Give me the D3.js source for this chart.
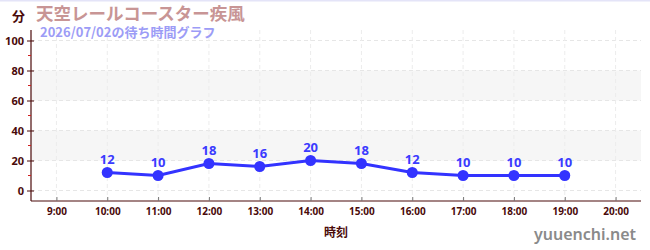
<!DOCTYPE html>
<html lang="ja">
<head>
<meta charset="UTF-8">
<script src="https://cdn.jsdelivr.net/npm/d3@7"></script>
<style>
  html, body { margin: 0; padding: 0; background: #fff; }
  body { width: 650px; height: 250px; overflow: hidden; font-family: "Noto Sans CJK JP", "Noto Sans", sans-serif; }
  svg { display: block; }
</style>
</head>
<body>
<div id="chart"></div>
<script>
// data
let hours = [10, 11, 12, 13, 14, 15, 16, 17, 18, 19];
let waits = [12, 10, 18, 16, 20, 18, 12, 10, 10, 10];
let xTicks = [9, 10, 11, 12, 13, 14, 15, 16, 17, 18, 19, 20];
let yTicks = [0, 20, 40, 60, 80, 100];
let yMinor = [10, 30, 50, 70, 90];
let bands = [[20, 40], [60, 80]];

let title = '天空レールコースター疾風';
let subtitle = '2026/07/02の待ち時間グラフ';

let width = 650, height = 250;
let plotL = 31, plotR = 641, plotT = 30, plotB = 201;
let axisColor = '#4a0a0a';

let svg = d3.select('#chart').append('svg').attr('width', width).attr('height', height);

let x = d3.scaleLinear().domain([8.5, 20.5]).range([plotL, plotR]);
let y = d3.scaleLinear().domain([-7, 107]).range([plotB, plotT]);

// top border
svg.append('rect').attr('x', 0).attr('y', 0).attr('width', width).attr('height', 1.5).attr('fill', '#e4e4f8');

// bands
svg.selectAll('rect.band')
    .data(bands)
    .join('rect')
    .attr('class', 'band')
    .attr('x', plotL).attr('width', plotR - plotL)
    .attr('y', d => y(d[1])).attr('height', d => y(d[0]) - y(d[1]))
    .attr('fill', '#f6f6f6');

// grid
svg.selectAll('line.hgrid')
    .data(yTicks)
    .join('line')
    .attr('class', 'hgrid')
    .attr('x1', plotL).attr('x2', plotR)
    .attr('y1', d => y(d)).attr('y2', d => y(d))
    .attr('stroke', '#e6e6e6').attr('stroke-dasharray', '4,3');

svg.selectAll('line.vgrid')
    .data(xTicks)
    .join('line')
    .attr('class', 'vgrid')
    .attr('x1', d => x(d)).attr('x2', d => x(d))
    .attr('y1', plotT).attr('y2', plotB)
    .attr('stroke', '#ececec').attr('stroke-dasharray', '4,3');

// axes
let yAxis = svg.append('g')
    .attr('transform', `translate(${plotL},0)`)
    .call(d3.axisLeft(y).tickValues(yTicks).tickSize(3).tickPadding(4));
yAxis.select('.domain').attr('d', `M0,${plotT}V${plotB}`).attr('stroke', axisColor).attr('stroke-width', 1.2);
yAxis.selectAll('.tick line').attr('x2', 3).attr('x1', -4).attr('stroke', axisColor);
yAxis.selectAll('.tick text')
    .attr('fill', axisColor).attr('font-size', 11).attr('font-weight', 'bold')
    .attr('font-family', '"Noto Sans", sans-serif');

svg.selectAll('line.yminor')
    .data(yMinor)
    .join('line')
    .attr('class', 'yminor')
    .attr('x1', plotL - 3).attr('x2', plotL)
    .attr('y1', d => y(d)).attr('y2', d => y(d))
    .attr('stroke', '#d02020');

let xAxis = svg.append('g')
    .attr('transform', `translate(0,${plotB})`)
    .call(d3.axisBottom(x).tickValues(xTicks).tickFormat(d => d + ':00').tickSize(0).tickPadding(7));
xAxis.select('.domain').attr('d', `M${plotL},0H${plotR}`).attr('stroke', axisColor).attr('stroke-width', 1.2);
xAxis.selectAll('.tick line').attr('y1', -4).attr('y2', 0).attr('stroke', '#777');
xAxis.selectAll('.tick text')
    .attr('fill', axisColor).attr('font-size', 10).attr('font-weight', 'bold')
    .attr('font-family', '"Noto Sans", sans-serif');

// line + points
let pts = hours.map((h, i) => [h, waits[i]]);
svg.append('path')
    .datum(pts)
    .attr('d', d3.line().x(d => x(d[0])).y(d => y(d[1])))
    .attr('fill', 'none')
    .attr('stroke', '#3333ff')
    .attr('stroke-width', 3);

svg.selectAll('circle.pt')
    .data(pts)
    .join('circle')
    .attr('class', 'pt')
    .attr('cx', d => x(d[0])).attr('cy', d => y(d[1]))
    .attr('r', 5.5)
    .attr('fill', '#3333ff');

svg.selectAll('text.val')
    .data(pts)
    .join('text')
    .attr('class', 'val')
    .attr('x', d => x(d[0])).attr('y', d => y(d[1]) - 9)
    .attr('text-anchor', 'middle')
    .attr('font-size', 13).attr('font-weight', 'bold')
    .attr('font-family', '"Noto Sans", sans-serif')
    .attr('fill', '#3b3bff')
    .text(d => d[1]);

// titles
svg.append('text').attr('x', 12).attr('y', 21)
    .attr('font-size', 13).attr('font-weight', 'bold').attr('fill', axisColor)
    .text('分');
svg.append('text').attr('x', 36).attr('y', 20)
    .attr('font-size', 17.5).attr('font-weight', 'bold').attr('fill', '#c89595')
    .text(title);
svg.append('text').attr('x', 40).attr('y', 37)
    .attr('font-size', 13).attr('font-weight', 'bold').attr('fill', '#9c9cf6')
    .text(subtitle);

svg.append('text').attr('x', 336).attr('y', 237)
    .attr('text-anchor', 'middle')
    .attr('font-size', 12).attr('font-weight', 'bold').attr('fill', axisColor)
    .text('時刻');

svg.append('text').attr('x', 636).attr('y', 240)
    .attr('text-anchor', 'end')
    .attr('font-size', 16).attr('font-weight', 600).attr('fill', '#8a8a8a')
    .attr('font-family', '"Noto Sans", sans-serif')
    .text('yuuenchi.net');
</script>
</body>
</html>
